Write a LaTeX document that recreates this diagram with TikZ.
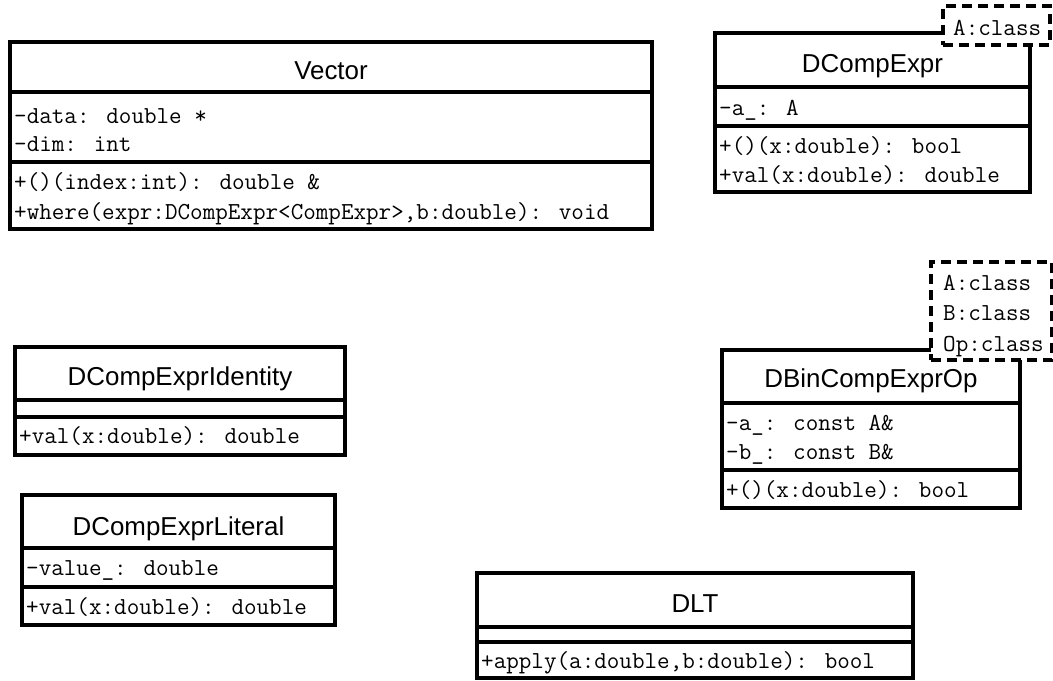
\documentclass[tikz,border=0pt]{standalone}
\usepackage{fontspec}
\setmainfont{Liberation Sans}
\begin{document}
\begin{tikzpicture}[x=1bp,y=-1bp,
  cls/.style={draw, line width=3.5bp, inner sep=0pt, fill=white},
  ttl/.style={font=\fontsize{26}{30}\selectfont, inner sep=0pt, anchor=base},
  mem/.style={font=\ttfamily\fontsize{24.5}{29}\selectfont, anchor=base west, inner sep=0pt},
  tpl/.style={draw, line width=3.5bp, dash pattern=on 10bp off 6bp, fill=white, inner sep=0pt},
  div/.style={line width=3.5bp}]
\useasboundingbox (0,0) rectangle (1053,681);

% ---------- Vector ----------
\node[cls, minimum width=642bp, minimum height=187bp] (vec) at (331,135.5) {};
\draw[div] (vec.west |- 0,92) -- (vec.east |- 0,92);
\draw[div] (vec.west |- 0,162) -- (vec.east |- 0,162);
\node[ttl] (vect) at (331,80) {Vector};
\node[mem] (veca1) at (14,124) {-data: double *};
\node[mem] (veca2) at (14,152) {-dim: int};
\node[mem] (vecm1) at (14,190) {+()(index:int): double \&};
\node[mem] (vecm2) at (14,219) {+where(expr:DCompExpr<CompExpr>,b:double): void};

% ---------- DCompExpr ----------
\node[cls, minimum width=315bp, minimum height=159bp] (dce) at (872.5,112.5) {};
\draw[div] (dce.west |- 0,87) -- (dce.east |- 0,87);
\draw[div] (dce.west |- 0,126) -- (dce.east |- 0,126);
\node[ttl] (dcet) at (872.5,73) {DCompExpr};
\node[mem] (dcea1) at (719,116) {-a\_: A};
\node[mem] (dcem1) at (719,154) {+()(x:double): bool};
\node[mem] (dcem2) at (719,183) {+val(x:double): double};
\node[tpl, minimum width=107bp, minimum height=39bp] (dcetp) at (996.5,25.5) {};
\node[mem] (dcetp1) at (953,36) {A:class};

% ---------- DBinCompExprOp ----------
\node[cls, minimum width=298bp, minimum height=158bp] (dbc) at (871,429) {};
\draw[div] (dbc.west |- 0,403) -- (dbc.east |- 0,403);
\draw[div] (dbc.west |- 0,470) -- (dbc.east |- 0,470);
\node[ttl] (dbct) at (871,387) {DBinCompExprOp};
\node[mem] (dbca1) at (726,430) {-a\_: const A\&};
\node[mem] (dbca2) at (726,459) {-b\_: const B\&};
\node[mem] (dbcm1) at (726,497) {+()(x:double): bool};
\node[tpl, minimum width=121bp, minimum height=98bp] (dbctp) at (991.5,311) {};
\node[mem] (dbctp1) at (943,290) {A:class};
\node[mem] (dbctp2) at (943,320) {B:class};
\node[mem] (dbctp3) at (943,351) {Op:class};

% ---------- DCompExprIdentity ----------
\node[cls, minimum width=330bp, minimum height=108bp] (dci) at (180,401) {};
\draw[div] (dci.west |- 0,400) -- (dci.east |- 0,400);
\draw[div] (dci.west |- 0,417) -- (dci.east |- 0,417);
\node[ttl] (dcit) at (180,385) {DCompExprIdentity};
\node[mem] (dcim1) at (19,443) {+val(x:double): double};

% ---------- DCompExprLiteral ----------
\node[cls, minimum width=313bp, minimum height=130bp] (dcl) at (178.5,560) {};
\draw[div] (dcl.west |- 0,548) -- (dcl.east |- 0,548);
\draw[div] (dcl.west |- 0,587) -- (dcl.east |- 0,587);
\node[ttl] (dclt) at (178.5,535) {DCompExprLiteral};
\node[mem] (dcla1) at (26,575) {-value\_: double};
\node[mem] (dclm1) at (26,614) {+val(x:double): double};

% ---------- DLT ----------
\node[cls, minimum width=436bp, minimum height=105bp] (dlt) at (695,625.5) {};
\draw[div] (dlt.west |- 0,627) -- (dlt.east |- 0,627);
\draw[div] (dlt.west |- 0,642) -- (dlt.east |- 0,642);
\node[ttl] (dltt) at (695,612) {DLT};
\node[mem] (dltm1) at (481,668) {+apply(a:double,b:double): bool};
\end{tikzpicture}
\end{document}
